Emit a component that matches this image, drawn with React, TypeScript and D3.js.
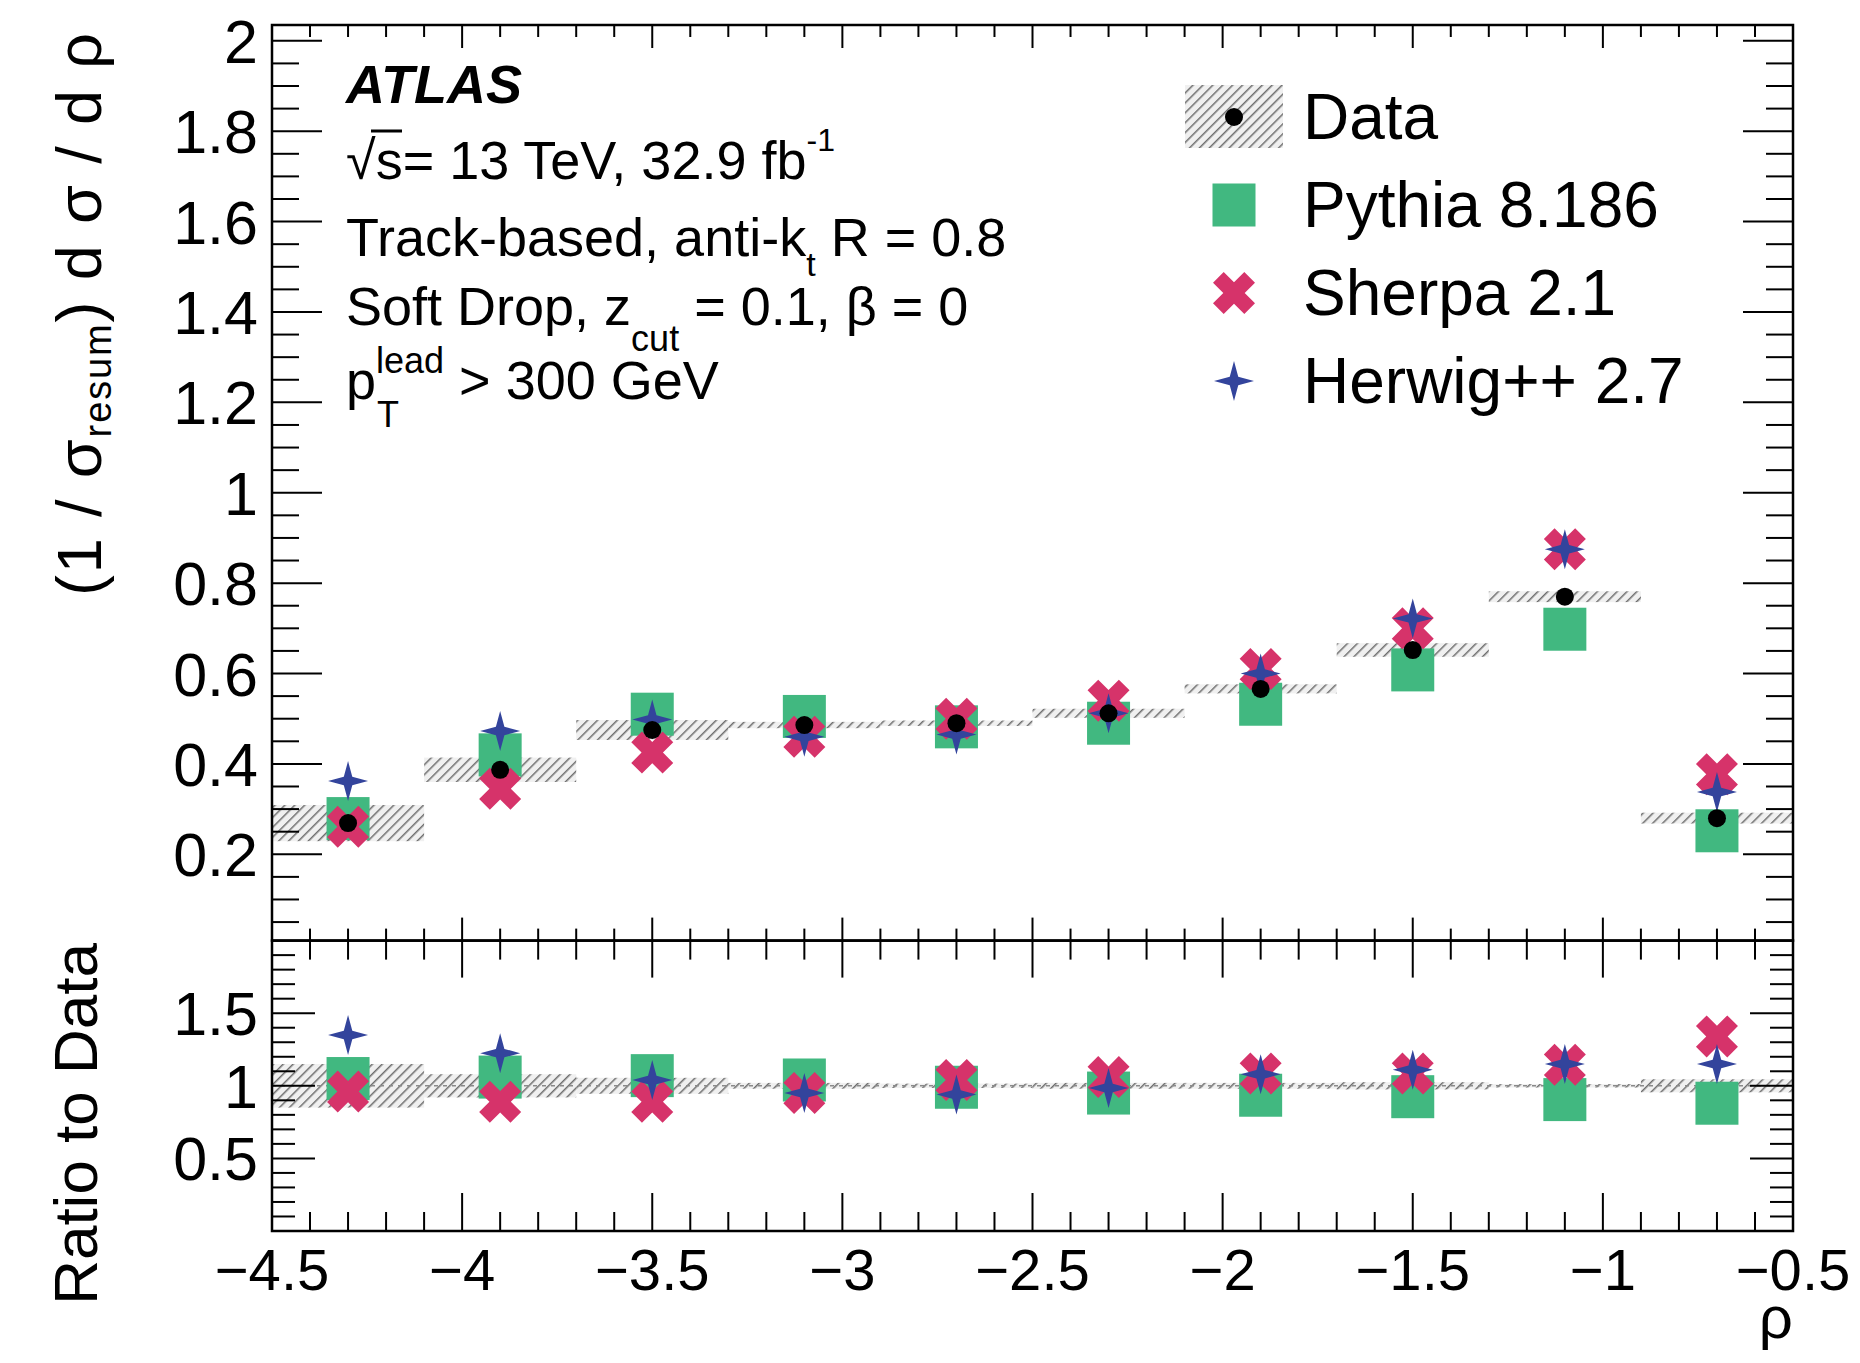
import React from 'react';
import * as d3 from 'd3';

// ---------------- data ----------------
const binEdges = [-4.5, -4.1, -3.7, -3.3, -2.9, -2.5, -2.1, -1.7, -1.3, -0.9, -0.5];
const binCenters = [-4.3, -3.9, -3.5, -3.1, -2.7, -2.3, -1.9, -1.5, -1.1, -0.7];

const dataValues = [0.269, 0.387, 0.475, 0.486, 0.490, 0.512, 0.566, 0.652, 0.770, 0.280];
const dataErrors = [0.040, 0.027, 0.022, 0.007, 0.006, 0.010, 0.010, 0.015, 0.012, 0.012];
const pythiaValues = [0.279, 0.420, 0.510, 0.505, 0.482, 0.490, 0.532, 0.608, 0.698, 0.252];
const sherpaValues = [0.261, 0.345, 0.425, 0.460, 0.500, 0.540, 0.610, 0.700, 0.875, 0.377];
const herwigValues = [0.362, 0.473, 0.498, 0.460, 0.465, 0.512, 0.600, 0.722, 0.875, 0.338];

const ratioErrors = [0.15, 0.08, 0.055, 0.02, 0.015, 0.02, 0.02, 0.025, 0.012, 0.045];
const ratioPythia = [1.05, 1.06, 1.07, 1.04, 0.99, 0.95, 0.935, 0.925, 0.905, 0.88];
const ratioSherpa = [0.96, 0.89, 0.89, 0.95, 1.04, 1.06, 1.085, 1.085, 1.145, 1.34];
const ratioHerwig = [1.35, 1.225, 1.04, 0.95, 0.94, 0.985, 1.08, 1.11, 1.15, 1.15];

const xTickValues = [-4.5, -4, -3.5, -3, -2.5, -2, -1.5, -1, -0.5];
const xTickLabels = ['\u22124.5', '\u22124', '\u22123.5', '\u22123', '\u22122.5', '\u22122', '\u22121.5', '\u22121', '\u22120.5'];
const yTopTickValues = [0.2, 0.4, 0.6, 0.8, 1, 1.2, 1.4, 1.6, 1.8, 2];
const yTopTickLabels = ['0.2', '0.4', '0.6', '0.8', '1', '1.2', '1.4', '1.6', '1.8', '2'];
const yBotTickValues = [0.5, 1, 1.5];
const yBotTickLabels = ['0.5', '1', '1.5'];

const legendLabels = ['Data', 'Pythia 8.186', 'Sherpa 2.1', 'Herwig++ 2.7'];

// ---------------- style ----------------
const GREEN = '#41b880';
const PINK = '#d6336a';
const BLUE = '#33449c';
const FONT = "'Liberation Sans', Arial, Helvetica, sans-serif";

const W = 1860, H = 1363;
const L = 272, R = 1793, T1 = 25, B1 = 940.6, B2 = 1231;

const x = d3.scaleLinear().domain([-4.5, -0.5]).range([L, R]);
const yTop = d3.scaleLinear().domain([0.009, 2.035]).range([B1, T1]);
const yBot = d3.scaleLinear().domain([0, 2]).range([B2, B1]);

// custom symbol types
const symStar4 = {
  draw(ctx: any, size: number) {
    const r = Math.sqrt(size) / 2;
    const ri = r * 0.3;
    for (let k = 0; k < 8; k++) {
      const a = -Math.PI / 2 + (k * Math.PI) / 4;
      const rr = k % 2 === 0 ? r : ri;
      const px = rr * Math.cos(a), py = rr * Math.sin(a);
      if (k === 0) ctx.moveTo(px, py); else ctx.lineTo(px, py);
    }
    ctx.closePath();
  },
};
const symThickX = {
  draw(ctx: any, size: number) {
    const h = Math.sqrt(size) / 2; // half bounding box
    const b = h * 0.36;
    const A = h * Math.SQRT2 - b;
    const pts = [[-b, -A], [b, -A], [b, -b], [A, -b], [A, b], [b, b], [b, A], [-b, A], [-b, b], [-A, b], [-A, -b], [-b, -b]];
    pts.forEach(([px, py], i) => {
      const rx = (px - py) / Math.SQRT2, ry = (px + py) / Math.SQRT2;
      if (i === 0) ctx.moveTo(rx, ry); else ctx.lineTo(rx, ry);
    });
    ctx.closePath();
  },
};
const starPath = d3.symbol(symStar4 as any, 40 * 40)()!;
const xPath = d3.symbol(symThickX as any, 42 * 42)()!;
const SQ = 43;
const DOT_R = 9;

function range(n: number, f: (i: number) => number) {
  return d3.range(n).map(f);
}

const xMinor = range(41, (i) => -4.5 + i * 0.1);
const xMajorSet = new Set(xTickValues.map((v) => v.toFixed(2)));
const yTopMinor = range(41, (i) => i * 0.05).filter((v) => v > 0.01);
const yTopMajorSet = new Set(yTopTickValues.map((v) => v.toFixed(2)));
const yBotMinor = range(20, (i) => i * 0.1).filter((v) => v > 0.01);
const yBotMajorSet = new Set(yBotTickValues.map((v) => v.toFixed(2)));

function XTicks({ y0, dir, major, minor }: { y0: number; dir: number; major: number; minor: number }) {
  return (
    <g stroke="#000" strokeWidth={2}>
      {xMinor.map((v, i) => {
        const isMaj = xMajorSet.has(v.toFixed(2));
        const len = isMaj ? major : minor;
        return <line key={i} x1={x(v)} x2={x(v)} y1={y0} y2={y0 + dir * len} />;
      })}
    </g>
  );
}

function YTicks({ scale, vals, majSet, major, minor }: any) {
  return (
    <g stroke="#000" strokeWidth={2}>
      {vals.map((v: number, i: number) => {
        const isMaj = majSet.has(v.toFixed(2));
        const len = isMaj ? major : minor;
        const yy = scale(v);
        return (
          <g key={i}>
            <line x1={L} x2={L + len} y1={yy} y2={yy} />
            <line x1={R} x2={R - len} y1={yy} y2={yy} />
          </g>
        );
      })}
    </g>
  );
}

function Markers({ scale, pyth, sher, herw, data }: any) {
  return (
    <g>
      {binCenters.map((c, i) => (
        <rect key={'p' + i} x={x(c) - SQ / 2} y={scale(pyth[i]) - SQ / 2} width={SQ} height={SQ} fill={GREEN} />
      ))}
      {binCenters.map((c, i) => (
        <path key={'s' + i} d={xPath} transform={`translate(${x(c)},${scale(sher[i])})`} fill={PINK} />
      ))}
      {binCenters.map((c, i) => (
        <path key={'h' + i} d={starPath} transform={`translate(${x(c)},${scale(herw[i])})`} fill={BLUE} />
      ))}
      {data &&
        binCenters.map((c, i) => <circle key={'d' + i} cx={x(c)} cy={scale(data[i])} r={DOT_R} fill="#000" />)}
    </g>
  );
}

export default function App() {
  const legendY = [117, 205, 293, 381];
  const legX = 1234;
  return (
    <svg
      width={W}
      height={H}
      viewBox={`0 0 ${W} ${H}`}
      style={{ position: 'absolute', left: 0, top: 0, background: '#fff' }}
      fontFamily={FONT}
    >
      <defs>
        <pattern id="hatch" patternUnits="userSpaceOnUse" width={7} height={7} patternTransform="rotate(45)">
          <rect width={7} height={7} fill="#f0f0f0" />
          <line x1={0} y1={0} x2={0} y2={7} stroke="#6e6e6e" strokeWidth={3} />
        </pattern>
        <clipPath id="clipTop">
          <rect x={L} y={T1} width={R - L} height={B1 - T1} />
        </clipPath>
        <clipPath id="clipBot">
          <rect x={L} y={B1} width={R - L} height={B2 - B1} />
        </clipPath>
      </defs>
      <rect width={W} height={H} fill="#fff" />

      {/* ---------- upper panel ---------- */}
      <g clipPath="url(#clipTop)">
        {dataValues.map((v, i) => (
          <rect
            key={i}
            x={x(binEdges[i])}
            width={x(binEdges[i + 1]) - x(binEdges[i])}
            y={yTop(v + dataErrors[i])}
            height={yTop(v - dataErrors[i]) - yTop(v + dataErrors[i])}
            fill="url(#hatch)"
          />
        ))}
        <Markers scale={yTop} pyth={pythiaValues} sher={sherpaValues} herw={herwigValues} data={dataValues} />
      </g>
      <XTicks y0={T1} dir={1} major={23} minor={12} />
      <XTicks y0={B1} dir={-1} major={23} minor={12} />
      <YTicks scale={yTop} vals={yTopMinor} majSet={yTopMajorSet} major={50} minor={27} />
      <rect x={L} y={T1} width={R - L} height={B1 - T1} fill="none" stroke="#000" strokeWidth={2.5} />

      {/* ---------- lower panel ---------- */}
      <g clipPath="url(#clipBot)">
        {ratioErrors.map((e, i) => (
          <rect
            key={i}
            x={x(binEdges[i])}
            width={x(binEdges[i + 1]) - x(binEdges[i])}
            y={yBot(1 + e)}
            height={yBot(1 - e) - yBot(1 + e)}
            fill="url(#hatch)"
          />
        ))}
        <line x1={L} x2={R} y1={yBot(1)} y2={yBot(1)} stroke="#8a8a8a" strokeWidth={1.5} strokeDasharray="4 5" />
        <Markers scale={yBot} pyth={ratioPythia} sher={ratioSherpa} herw={ratioHerwig} data={null} />
      </g>
      <XTicks y0={B1} dir={1} major={37} minor={19} />
      <XTicks y0={B2} dir={-1} major={38} minor={19} />
      <YTicks scale={yBot} vals={yBotMinor} majSet={yBotMajorSet} major={43} minor={23} />
      <rect x={L} y={B1} width={R - L} height={B2 - B1} fill="none" stroke="#000" strokeWidth={2.5} />

      {/* ---------- tick labels ---------- */}
      <g fontSize={61} fill="#000">
        {yTopTickValues.map((v, i) => (
          <text key={i} x={258} y={yTop(v) + 22} textAnchor="end">
            {yTopTickLabels[i]}
          </text>
        ))}
        {yBotTickValues.map((v, i) => (
          <text key={i} x={258} y={yBot(v) + 22} textAnchor="end">
            {yBotTickLabels[i]}
          </text>
        ))}
      </g>
      <g fontSize={58} fill="#000">
        {xTickValues.map((v, i) => (
          <text key={i} x={x(v)} y={1290} textAnchor="middle">
            {xTickLabels[i]}
          </text>
        ))}
      </g>

      {/* ---------- axis titles ---------- */}
      <text x={1793} y={1338} textAnchor="end" fontSize={60}>
        ρ
      </text>
      <text
        transform="translate(101,33) rotate(-90)"
        textAnchor="end"
        fontSize={63}
        textLength={563}
        lengthAdjust="spacing"
      >
        (1 / σ<tspan fontSize={38} dy={10}>resum</tspan>
        <tspan dy={-10}>) d σ / d ρ</tspan>
      </text>
      <text transform="translate(97,943) rotate(-90)" textAnchor="end" fontSize={62}>
        Ratio to Data
      </text>

      {/* ---------- ATLAS labels ---------- */}
      <text x={346} y={103} fontSize={54} fontWeight="bold" fontStyle="italic">
        ATLAS
      </text>
      <text x={346} y={179} fontSize={54}>
        √s= 13 TeV, 32.9 fb
        <tspan fontSize={32} dy={-28}>-1</tspan>
      </text>
      <line x1={371} x2={402} y1={131} y2={131} stroke="#000" strokeWidth={3} />
      <text x={346} y={256} fontSize={54}>
        Track-based, anti-k<tspan fontSize={34} dy={20}>t</tspan>
        <tspan dy={-20}> R = 0.8</tspan>
      </text>
      <text x={346} y={325} fontSize={54}>
        Soft Drop, z<tspan fontSize={36} dy={26}>cut</tspan>
        <tspan dy={-26}> = 0.1, β = 0</tspan>
      </text>
      <text x={346} y={399} fontSize={54}>
        p<tspan fontSize={36} dy={-26}>lead</tspan>
        <tspan dy={26}> &gt; 300 GeV</tspan>
      </text>
      <text x={377} y={427} fontSize={36}>
        T
      </text>

      {/* ---------- legend ---------- */}
      <rect x={1185} y={85} width={98} height={63} fill="url(#hatch)" />
      <circle cx={legX} cy={legendY[0]} r={DOT_R} fill="#000" />
      <rect x={legX - SQ / 2} y={legendY[1] - SQ / 2} width={SQ} height={SQ} fill={GREEN} />
      <path d={xPath} transform={`translate(${legX},${legendY[2]})`} fill={PINK} />
      <path d={starPath} transform={`translate(${legX},${legendY[3]})`} fill={BLUE} />
      <g fontSize={64}>
        {legendLabels.map((t, i) => (
          <text key={i} x={1303} y={legendY[i] + 22}>
            {t}
          </text>
        ))}
      </g>
    </svg>
  );
}
